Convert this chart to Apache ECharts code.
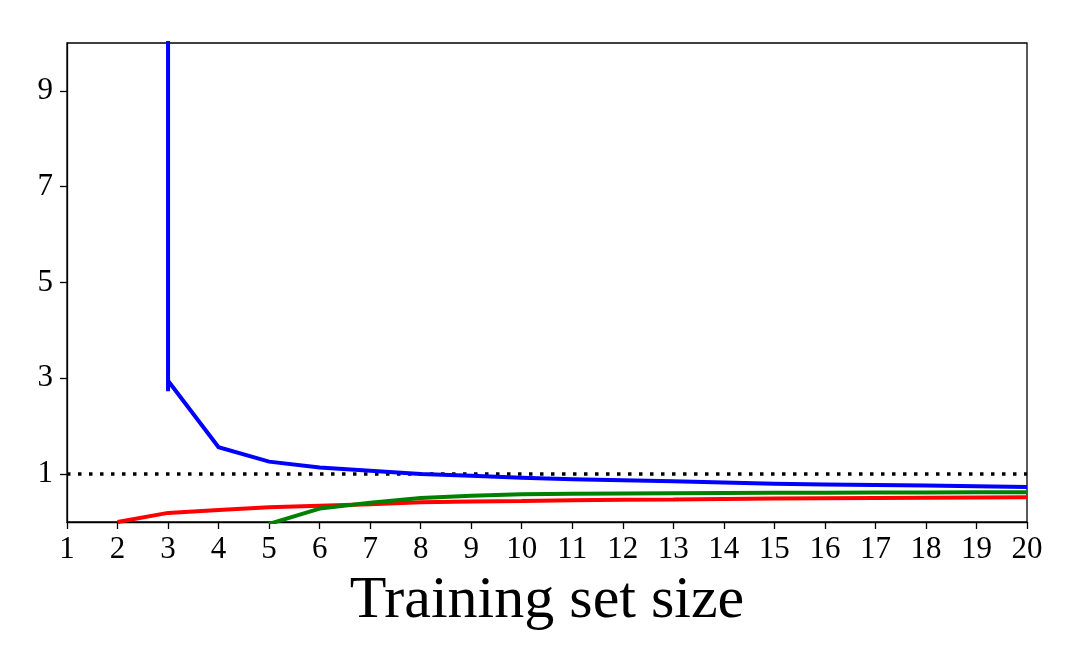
<!DOCTYPE html>
<html>
<head>
<meta charset="utf-8">
<script src="https://cdn.jsdelivr.net/npm/echarts@6/dist/echarts.min.js"></script>
<style>html,body{margin:0;padding:0;background:#fff;}#c{width:1080px;height:668px;}</style>
</head>
<body>
<div id="c"></div>
<script>
// Data
const blueX = [3, 3, 3, 4, 5, 6, 7, 8, 9, 10, 11, 12, 13, 14, 15, 16, 17, 18, 19, 20];
const blueY = [50, 2.73, 2.95, 1.56, 1.26, 1.14, 1.07, 1.0, 0.965, 0.925, 0.895, 0.87, 0.85, 0.825, 0.80, 0.785, 0.775, 0.76, 0.745, 0.73];
const redX = [2, 3, 4, 5, 6, 7, 8, 9, 10, 11, 12, 13, 14, 15, 16, 17, 18, 19, 20];
const redY = [0.0, 0.19, 0.25, 0.31, 0.34, 0.37, 0.41, 0.43, 0.44, 0.455, 0.465, 0.47, 0.48, 0.49, 0.495, 0.50, 0.505, 0.51, 0.515];
const greenX = [5, 6, 7, 8, 9, 10, 11, 12, 13, 14, 15, 16, 17, 18, 19, 20];
const greenY = [-0.04, 0.28, 0.40, 0.50, 0.55, 0.58, 0.59, 0.595, 0.60, 0.605, 0.61, 0.61, 0.615, 0.615, 0.62, 0.62];
const refX = [1, 20];
const refY = [1, 1];
const yTicks = [1, 3, 5, 7, 9];
const xLabel = 'Training set size';

const pairs = (xs, ys) => xs.map((x, i) => [x, ys[i]]);
const font = 'Liberation Serif';

const chart = echarts.init(document.getElementById('c'));
chart.setOption({
  animation: false,
  grid: { left: 67, right: 53, top: 43, bottom: 146, show: true, borderColor: '#000', borderWidth: 1.3, backgroundColor: 'transparent' },
  xAxis: {
    type: 'value', min: 1, max: 20, interval: 1,
    name: xLabel, nameLocation: 'middle', nameGap: 49,
    nameTextStyle: { fontFamily: font, fontSize: 60, color: '#000' },
    axisLine: { show: true, lineStyle: { color: '#000', width: 1.3 } },
    axisTick: { show: true, length: 7, lineStyle: { color: '#000', width: 1.3 } },
    axisLabel: { fontFamily: font, fontSize: 31, color: '#000', margin: 12 },
    splitLine: { show: false }
  },
  yAxis: {
    type: 'value', min: 0, max: 10,
    axisLine: { show: true, lineStyle: { color: '#000', width: 1.3 } },
    axisTick: { show: true, length: 7, customValues: yTicks, lineStyle: { color: '#000', width: 1.3 } },
    axisLabel: { fontFamily: font, fontSize: 31, color: '#000', margin: 14, customValues: yTicks },
    splitLine: { show: false }
  },
  series: [
    { type: 'line', data: pairs(refX, refY), symbol: 'none', clip: true,
      lineStyle: { color: '#000', width: 3.5, type: [3.5, 7.5] }, z: 1 },
    { type: 'line', data: pairs(redX, redY), symbol: 'none', clip: true,
      lineStyle: { color: '#ff0000', width: 4 }, z: 2 },
    { type: 'line', data: pairs(greenX, greenY), symbol: 'none', clip: true,
      lineStyle: { color: '#008000', width: 4 }, z: 3 },
    { type: 'line', data: pairs(blueX, blueY), symbol: 'none', clip: true,
      lineStyle: { color: '#0000ff', width: 4, join: 'miter' }, z: 4 }
  ]
});
</script>
</body>
</html>
